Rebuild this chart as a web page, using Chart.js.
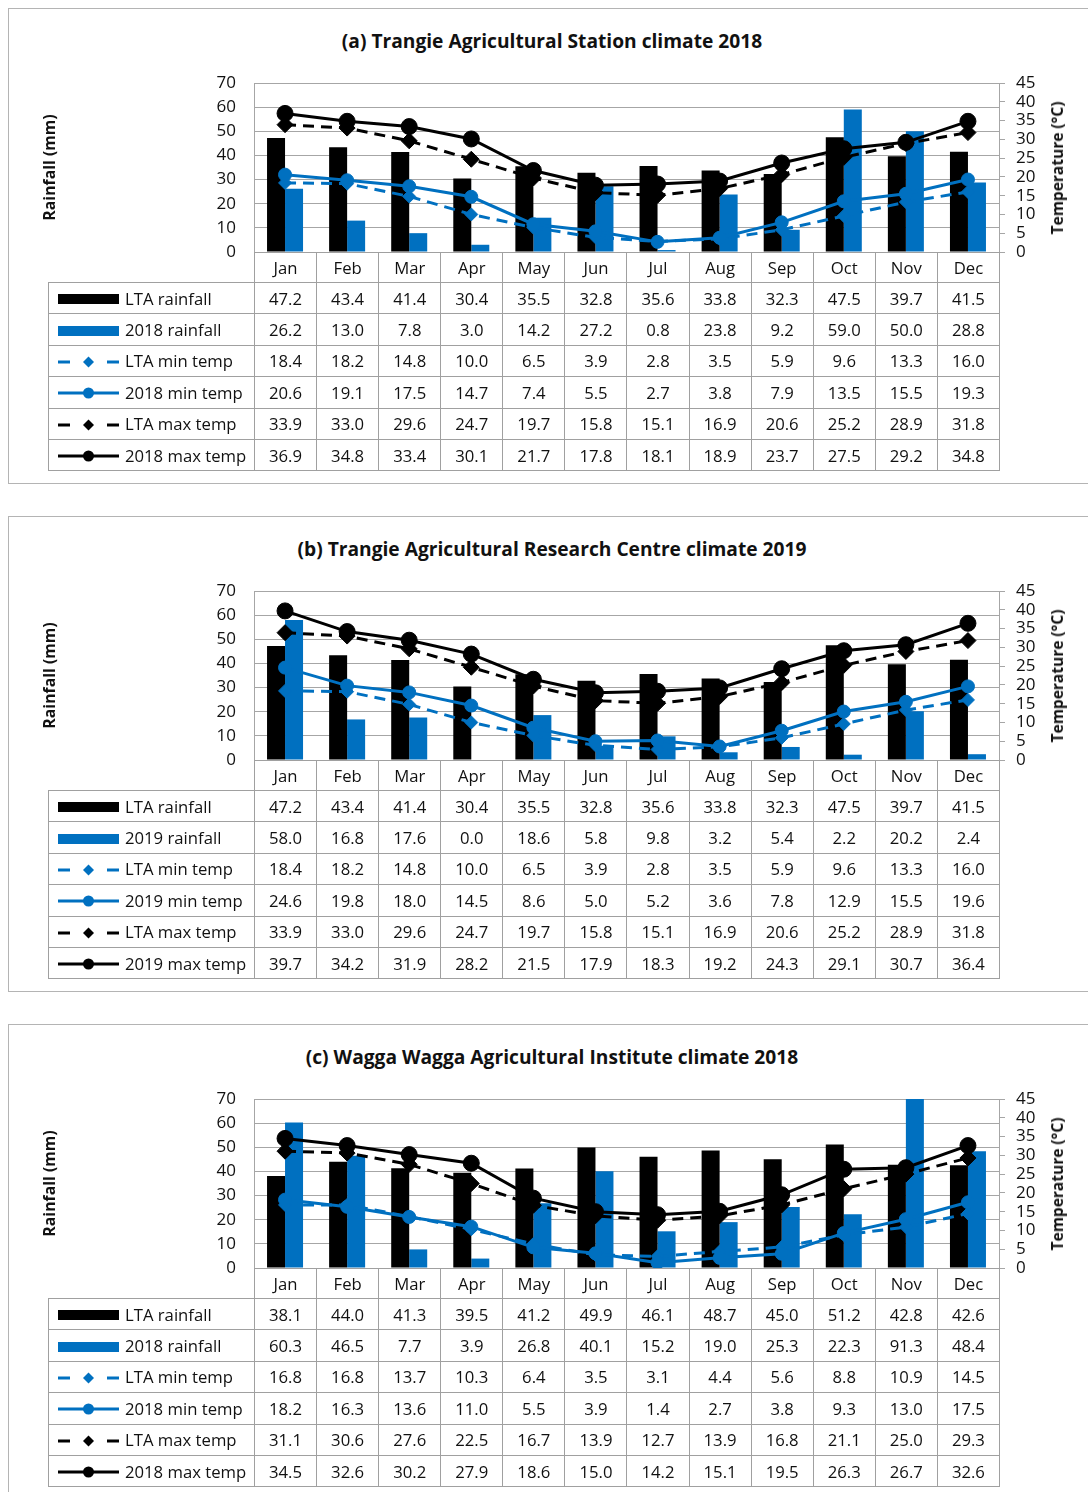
<!DOCTYPE html>
<html>
<head>
<meta charset="utf-8">
<script src="https://cdn.jsdelivr.net/npm/chart.js@4/dist/chart.umd.min.js"></script>
<style>
  body { margin: 0; background: #fff; font-family: 'Open Sans', sans-serif; color: #111; }
  .panel { position: absolute; left: 8px; width: 1088px; height: 476px; border: 1px solid #b4b4b4; box-sizing: border-box; }
  .title { position: absolute; left: 0; width: 100%; text-align: center; font-weight: bold; font-size: 19.2px; }
  .ytitle { position: absolute; font-weight: bold; font-size: 15.5px; white-space: nowrap; transform: translate(-50%, -50%) rotate(-90deg); }
  canvas { position: absolute; }
  table { position: absolute; border-collapse: collapse; table-layout: fixed; font-size: 16.7px; }
  td { border: 1px solid #a0a0a0; text-align: center; padding: 0; height: 30.4px; white-space: nowrap; }
  tr.head td { height: 29px; }
  tr.head td.blank { border-top: none; border-left: none; }
  td.leg { text-align: left; padding-left: 9px; }
  td.leg svg { vertical-align: middle; margin-right: 6px; position: relative; top: -1px; }
</style>
</head>
<body>
<script>
const months = ['Jan', 'Feb', 'Mar', 'Apr', 'May', 'Jun', 'Jul', 'Aug', 'Sep', 'Oct', 'Nov', 'Dec'];

// Trangie long-term averages (same for both years)
const trangieLtaRain = [47.2, 43.4, 41.4, 30.4, 35.5, 32.8, 35.6, 33.8, 32.3, 47.5, 39.7, 41.5];
const trangieLtaMin = [18.4, 18.2, 14.8, 10.0, 6.5, 3.9, 2.8, 3.5, 5.9, 9.6, 13.3, 16.0];
const trangieLtaMax = [33.9, 33.0, 29.6, 24.7, 19.7, 15.8, 15.1, 16.9, 20.6, 25.2, 28.9, 31.8];

const trangie2018Rain = [26.2, 13.0, 7.8, 3.0, 14.2, 27.2, 0.8, 23.8, 9.2, 59.0, 50.0, 28.8];
const trangie2018Min = [20.6, 19.1, 17.5, 14.7, 7.4, 5.5, 2.7, 3.8, 7.9, 13.5, 15.5, 19.3];
const trangie2018Max = [36.9, 34.8, 33.4, 30.1, 21.7, 17.8, 18.1, 18.9, 23.7, 27.5, 29.2, 34.8];

const trangie2019Rain = [58.0, 16.8, 17.6, 0.0, 18.6, 5.8, 9.8, 3.2, 5.4, 2.2, 20.2, 2.4];
const trangie2019Min = [24.6, 19.8, 18.0, 14.5, 8.6, 5.0, 5.2, 3.6, 7.8, 12.9, 15.5, 19.6];
const trangie2019Max = [39.7, 34.2, 31.9, 28.2, 21.5, 17.9, 18.3, 19.2, 24.3, 29.1, 30.7, 36.4];

// Wagga Wagga
const waggaLtaRain = [38.1, 44.0, 41.3, 39.5, 41.2, 49.9, 46.1, 48.7, 45.0, 51.2, 42.8, 42.6];
const wagga2018Rain = [60.3, 46.5, 7.7, 3.9, 26.8, 40.1, 15.2, 19.0, 25.3, 22.3, 91.3, 48.4];
const waggaLtaMin = [16.8, 16.8, 13.7, 10.3, 6.4, 3.5, 3.1, 4.4, 5.6, 8.8, 10.9, 14.5];
const wagga2018Min = [18.2, 16.3, 13.6, 11.0, 5.5, 3.9, 1.4, 2.7, 3.8, 9.3, 13.0, 17.5];
const waggaLtaMax = [31.1, 30.6, 27.6, 22.5, 16.7, 13.9, 12.7, 13.9, 16.8, 21.1, 25.0, 29.3];
const wagga2018Max = [34.5, 32.6, 30.2, 27.9, 18.6, 15.0, 14.2, 15.1, 19.5, 26.3, 26.7, 32.6];

// axis tick values: rainfall on the left, temperature on the right
const rainTicks = [0, 10, 20, 30, 40, 50, 60, 70];
const tempTicks = [0, 5, 10, 15, 20, 25, 30, 35, 40, 45];

const panels = [
  { title: '(a) Trangie Agricultural Station climate 2018', year: '2018',
    ltaRain: trangieLtaRain, rain: trangie2018Rain, ltaMin: trangieLtaMin, min: trangie2018Min, ltaMax: trangieLtaMax, max: trangie2018Max },
  { title: '(b) Trangie Agricultural Research Centre climate 2019', year: '2019',
    ltaRain: trangieLtaRain, rain: trangie2019Rain, ltaMin: trangieLtaMin, min: trangie2019Min, ltaMax: trangieLtaMax, max: trangie2019Max },
  { title: '(c) Wagga Wagga Agricultural Institute climate 2018', year: '2018',
    ltaRain: waggaLtaRain, rain: wagga2018Rain, ltaMin: waggaLtaMin, min: wagga2018Min, ltaMax: waggaLtaMax, max: wagga2018Max },
];

const BLUE = '#0070c0';
const BLACK = '#000000';
const GRID = '#a6a6a6';

Chart.defaults.font.family = "'Open Sans', sans-serif";
Chart.defaults.font.size = 17;
Chart.defaults.color = '#111';

// little key drawn in the first column of each table row
function legendSvg(kind, color) {
  let inner = '';
  if (kind === 'bar') {
    inner = `<rect x="0" y="2" width="61" height="10" fill="${color}"/>`;
  } else if (kind === 'dash') {
    inner = `<line x1="0" y1="7" x2="12" y2="7" stroke="${color}" stroke-width="3"/>` +
            `<line x1="49" y1="7" x2="61" y2="7" stroke="${color}" stroke-width="3"/>` +
            `<polygon points="30.5,1.5 36,7 30.5,12.5 25,7" fill="${color}"/>`;
  } else {
    inner = `<line x1="0" y1="7" x2="61" y2="7" stroke="${color}" stroke-width="3"/>` +
            `<circle cx="30.5" cy="7" r="5.5" fill="${color}"/>`;
  }
  return `<svg width="61" height="14">${inner}</svg>`;
}

// fixed tick list so the axis doesn't thin them out
const fixedTicks = values => scale => { scale.ticks = values.map(v => ({ value: v })); };

panels.forEach((p, i) => {
  const top = 8 + i * 508;

  const box = document.createElement('div');
  box.className = 'panel';
  box.style.top = top + 'px';
  document.body.appendChild(box);

  const title = document.createElement('div');
  title.className = 'title';
  title.style.top = '18px';
  title.textContent = p.title;
  box.appendChild(title);

  const canvas = document.createElement('canvas');
  canvas.width = 1034;
  canvas.height = 229;
  canvas.style.left = '37px';
  canvas.style.top = (top + 45) + 'px';
  document.body.appendChild(canvas);

  // right axis title reads bottom-up, so it sits outside the canvas
  const tTitle = document.createElement('div');
  tTitle.className = 'ytitle';
  tTitle.style.left = '1057px';
  tTitle.style.top = (top + 160) + 'px';
  tTitle.textContent = 'Temperature (°C)';
  document.body.appendChild(tTitle);

  const rows = [
    { label: 'LTA rainfall', data: p.ltaRain, kind: 'bar', color: BLACK },
    { label: p.year + ' rainfall', data: p.rain, kind: 'bar', color: BLUE },
    { label: 'LTA min temp', data: p.ltaMin, kind: 'dash', color: BLUE },
    { label: p.year + ' min temp', data: p.min, kind: 'solid', color: BLUE },
    { label: 'LTA max temp', data: p.ltaMax, kind: 'dash', color: BLACK },
    { label: p.year + ' max temp', data: p.max, kind: 'solid', color: BLACK },
  ];

  // data table under the plot, month columns line up with the categories
  const table = document.createElement('table');
  table.style.left = '48px';
  table.style.top = (top + 244) + 'px';
  table.style.width = '951px';
  let html = '<colgroup><col style="width:206px">' + months.map(() => '<col style="width:62.08px">').join('') + '</colgroup>';
  html += '<tr class="head"><td class="blank"></td>' + months.map(m => `<td>${m}</td>`).join('') + '</tr>';
  rows.forEach(r => {
    html += `<tr><td class="leg">${legendSvg(r.kind, r.color)}${r.label}</td>` +
      r.data.map(v => `<td>${v.toFixed(1)}</td>`).join('') + '</tr>';
  });
  table.innerHTML = html;
  document.body.appendChild(table);

  const lineSet = (r, order) => ({
    type: 'line',
    label: r.label,
    data: r.data,
    yAxisID: 'yT',
    order: order,
    borderColor: r.color,
    backgroundColor: r.color,
    borderWidth: 3,
    borderDash: r.kind === 'dash' ? [11, 7] : [],
    tension: 0,
    pointStyle: r.kind === 'dash' ? 'rectRot' : 'circle',
    pointRadius: r.color === BLACK ? 8 : 6.5,
    pointBorderWidth: 1,
    pointBackgroundColor: r.color,
    pointBorderColor: r.color,
  });

  const barSet = r => ({
    type: 'bar',
    label: r.label,
    data: r.data,
    yAxisID: 'yR',
    order: 10,
    backgroundColor: r.color,
    categoryPercentage: 0.58,
    barPercentage: 1,
  });

  new Chart(canvas, {
    type: 'bar',
    data: {
      labels: months,
      datasets: [
        barSet(rows[0]), barSet(rows[1]),
        lineSet(rows[2], 3), lineSet(rows[3], 2), lineSet(rows[4], 1), lineSet(rows[5], 0),
      ],
    },
    options: {
      responsive: false,
      animation: false,
      devicePixelRatio: 1,
      layout: { padding: { top: 30, bottom: 30, left: 0, right: 0 } },
      plugins: { legend: { display: false }, tooltip: { enabled: false } },
      scales: {
        x: { display: false, offset: true },
        yR: {
          position: 'left',
          min: rainTicks[0], max: rainTicks[rainTicks.length - 1],
          afterBuildTicks: fixedTicks(rainTicks),
          ticks: { padding: 18, autoSkip: false },
          grid: { color: GRID, drawTicks: false },
          border: { color: GRID },
          title: { display: true, text: 'Rainfall (mm)', font: { size: 15.8, weight: 'bold' }, color: '#111' },
          afterFit(scale) { scale.width = 217; },
        },
        yT: {
          position: 'right',
          min: tempTicks[0], max: tempTicks[tempTicks.length - 1],
          afterBuildTicks: fixedTicks(tempTicks),
          ticks: { padding: 11, autoSkip: false },
          grid: { drawOnChartArea: false, tickLength: 6, color: GRID },
          border: { color: GRID },
          afterFit(scale) { scale.width = 72; },
        },
      },
    },
  });
});
</script>
</body>
</html>
